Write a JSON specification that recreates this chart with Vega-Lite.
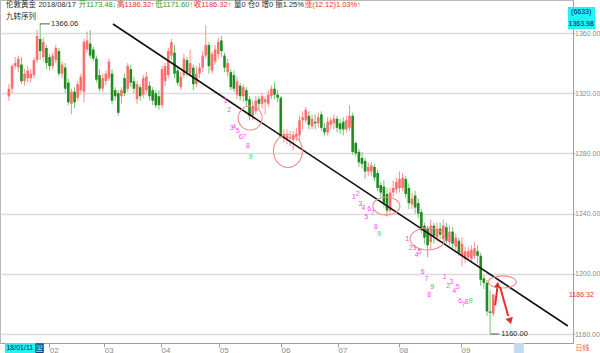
{
  "$schema": "https://vega.github.io/schema/vega-lite/v6.json",
  "width": 573,
  "height": 343,
  "autosize": {"type": "none"},
  "padding": {"left": 0, "top": 0, "right": 27, "bottom": 10},
  "background": "white",
  "config": {"view": {"stroke": "#b8b8b8", "strokeWidth": 1}, "font": "Liberation Sans, Noto Sans CJK SC"},
  "resolve": {"scale": {"color": "independent"}},
  "datasets": {
    "bars": [
      {"i":0,"o":1318,"h":1326,"l":1315,"c":1323},{"i":1,"o":1323,"h":1339,"l":1320,"c":1338},{"i":2,"o":1338,"h":1344,"l":1336,"c":1340},{"i":3,"o":1337,"h":1345,"l":1334,"c":1343},{"i":4,"o":1339,"h":1344,"l":1326,"c":1328},{"i":5,"o":1328,"h":1336,"l":1325,"c":1333},{"i":6,"o":1330,"h":1338,"l":1327,"c":1335},{"i":7,"o":1330,"h":1336,"l":1327,"c":1333},{"i":8,"o":1332,"h":1344,"l":1330,"c":1342},{"i":9,"o":1342,"h":1362,"l":1340,"c":1358},
      {"i":10,"o":1356,"h":1366.06,"l":1342,"c":1348},{"i":11,"o":1344,"h":1357,"l":1341,"c":1354},{"i":12,"o":1350,"h":1352,"l":1336,"c":1340},{"i":13,"o":1344,"h":1346,"l":1335,"c":1338},{"i":14,"o":1338,"h":1347,"l":1336,"c":1345},{"i":15,"o":1342,"h":1352,"l":1340,"c":1350},{"i":16,"o":1348,"h":1350,"l":1331,"c":1333},{"i":17,"o":1333,"h":1341,"l":1330,"c":1339},{"i":18,"o":1337,"h":1340,"l":1320,"c":1323},{"i":19,"o":1327,"h":1330,"l":1312,"c":1314},
      {"i":20,"o":1313,"h":1323,"l":1306,"c":1321},{"i":21,"o":1321,"h":1324,"l":1310,"c":1314},{"i":22,"o":1317,"h":1328,"l":1315,"c":1326},{"i":23,"o":1322,"h":1333,"l":1320,"c":1331},{"i":24,"o":1321,"h":1356,"l":1314,"c":1354},{"i":25,"o":1349,"h":1361,"l":1347,"c":1355},{"i":26,"o":1353,"h":1362,"l":1343,"c":1345},{"i":27,"o":1349,"h":1351,"l":1341,"c":1343},{"i":28,"o":1343,"h":1345,"l":1327,"c":1329},{"i":29,"o":1332,"h":1336,"l":1321,"c":1323},
      {"i":30,"o":1323,"h":1333,"l":1321,"c":1330},{"i":31,"o":1328,"h":1335,"l":1325,"c":1333},{"i":32,"o":1330,"h":1343,"l":1328,"c":1341},{"i":33,"o":1333,"h":1336,"l":1313,"c":1315},{"i":34,"o":1322,"h":1324,"l":1315,"c":1318},{"i":35,"o":1320,"h":1322,"l":1305,"c":1307},{"i":36,"o":1318,"h":1324,"l":1313,"c":1322},{"i":37,"o":1330,"h":1333,"l":1318,"c":1320},{"i":38,"o":1323,"h":1340,"l":1321,"c":1338},{"i":39,"o":1336,"h":1339,"l":1324,"c":1327},
      {"i":40,"o":1328,"h":1331,"l":1320,"c":1323},{"i":41,"o":1316,"h":1328,"l":1313,"c":1326},{"i":42,"o":1324,"h":1326,"l":1315,"c":1318},{"i":43,"o":1319,"h":1332,"l":1317,"c":1330},{"i":44,"o":1322,"h":1334,"l":1320,"c":1331},{"i":45,"o":1325,"h":1328,"l":1315,"c":1318},{"i":46,"o":1322,"h":1324,"l":1312,"c":1315},{"i":47,"o":1320,"h":1322,"l":1310,"c":1312},{"i":48,"o":1318,"h":1322,"l":1309,"c":1312},{"i":49,"o":1312,"h":1338,"l":1310,"c":1336},
      {"i":50,"o":1328,"h":1340,"l":1325,"c":1338},{"i":51,"o":1332,"h":1350,"l":1330,"c":1348},{"i":52,"o":1345,"h":1356,"l":1342,"c":1354},{"i":53,"o":1347,"h":1352,"l":1330,"c":1333},{"i":54,"o":1335,"h":1338,"l":1325,"c":1327},{"i":55,"o":1324,"h":1334,"l":1322,"c":1331},{"i":56,"o":1332,"h":1346,"l":1330,"c":1343},{"i":57,"o":1342,"h":1344,"l":1331,"c":1334},{"i":58,"o":1333,"h":1349,"l":1331,"c":1340},{"i":59,"o":1337,"h":1339,"l":1322,"c":1326},
      {"i":60,"o":1326,"h":1338,"l":1324,"c":1333},{"i":61,"o":1333,"h":1340,"l":1330,"c":1337},{"i":62,"o":1337,"h":1348,"l":1334,"c":1345},{"i":63,"o":1345,"h":1365,"l":1343,"c":1352},{"i":64,"o":1352,"h":1354,"l":1333,"c":1338},{"i":65,"o":1335,"h":1348,"l":1333,"c":1346},{"i":66,"o":1341,"h":1352,"l":1339,"c":1349},{"i":67,"o":1346,"h":1357,"l":1343,"c":1354},{"i":68,"o":1355,"h":1358,"l":1344,"c":1348},{"i":69,"o":1345,"h":1347,"l":1334,"c":1337},
      {"i":70,"o":1334,"h":1343,"l":1331,"c":1340},{"i":71,"o":1334,"h":1336,"l":1322,"c":1324},{"i":72,"o":1332,"h":1335,"l":1321,"c":1323},{"i":73,"o":1319,"h":1331,"l":1316,"c":1328},{"i":74,"o":1325,"h":1327,"l":1315,"c":1318},{"i":75,"o":1318,"h":1326,"l":1314,"c":1324},{"i":76,"o":1322,"h":1324,"l":1311,"c":1315},{"i":77,"o":1316,"h":1318,"l":1302,"c":1305},{"i":78,"o":1305,"h":1315,"l":1302,"c":1311},{"i":79,"o":1308,"h":1318,"l":1306,"c":1315},
      {"i":80,"o":1316,"h":1318,"l":1309,"c":1313},{"i":81,"o":1313,"h":1320,"l":1310,"c":1318},{"i":82,"o":1314,"h":1318,"l":1306,"c":1316},{"i":83,"o":1313,"h":1322,"l":1311,"c":1319},{"i":84,"o":1318,"h":1325,"l":1316,"c":1323},{"i":85,"o":1323,"h":1327,"l":1316,"c":1319},{"i":86,"o":1319,"h":1322,"l":1314,"c":1317},{"i":87,"o":1317,"h":1318,"l":1290,"c":1291},{"i":88,"o":1290,"h":1296,"l":1287,"c":1293},{"i":89,"o":1289,"h":1296,"l":1286,"c":1292},
      {"i":90,"o":1290,"h":1295,"l":1285,"c":1291},{"i":91,"o":1289,"h":1295,"l":1282,"c":1292},{"i":92,"o":1291,"h":1297,"l":1288,"c":1293},{"i":93,"o":1292,"h":1305,"l":1289,"c":1302},{"i":94,"o":1302,"h":1308,"l":1296,"c":1304},{"i":95,"o":1302,"h":1311,"l":1300,"c":1309},{"i":96,"o":1305,"h":1308,"l":1296,"c":1299},{"i":97,"o":1298,"h":1306,"l":1296,"c":1303},{"i":98,"o":1301,"h":1306,"l":1296,"c":1300},{"i":99,"o":1300,"h":1307,"l":1297,"c":1304},
      {"i":100,"o":1306,"h":1308,"l":1295,"c":1297},{"i":101,"o":1297,"h":1300,"l":1292,"c":1294},{"i":102,"o":1294,"h":1304,"l":1292,"c":1301},{"i":103,"o":1299,"h":1304,"l":1296,"c":1302},{"i":104,"o":1300,"h":1306,"l":1296,"c":1303},{"i":105,"o":1303,"h":1305,"l":1294,"c":1297},{"i":106,"o":1300,"h":1303,"l":1293,"c":1296},{"i":107,"o":1301,"h":1304,"l":1292,"c":1296},{"i":108,"o":1296,"h":1305,"l":1294,"c":1302},{"i":109,"o":1297,"h":1312,"l":1295,"c":1305},
      {"i":110,"o":1305,"h":1307,"l":1279,"c":1281},{"i":111,"o":1287,"h":1288,"l":1278,"c":1280},{"i":112,"o":1281,"h":1283,"l":1271,"c":1274},{"i":113,"o":1277,"h":1281,"l":1270,"c":1273},{"i":114,"o":1275,"h":1277,"l":1263,"c":1268},{"i":115,"o":1268,"h":1274,"l":1265,"c":1271},{"i":116,"o":1268,"h":1274,"l":1265,"c":1272},{"i":117,"o":1271,"h":1273,"l":1262,"c":1264},{"i":118,"o":1267,"h":1269,"l":1255,"c":1257},{"i":119,"o":1259,"h":1261,"l":1251,"c":1254},
      {"i":120,"o":1258,"h":1262,"l":1244,"c":1247},{"i":121,"o":1253,"h":1257,"l":1238,"c":1242},{"i":122,"o":1242,"h":1257,"l":1240,"c":1254},{"i":123,"o":1254,"h":1262,"l":1251,"c":1257},{"i":124,"o":1256,"h":1264,"l":1253,"c":1261},{"i":125,"o":1257,"h":1268,"l":1254,"c":1263},{"i":126,"o":1257,"h":1267,"l":1255,"c":1264},{"i":127,"o":1263,"h":1265,"l":1250,"c":1253},{"i":128,"o":1257,"h":1260,"l":1243,"c":1247},{"i":129,"o":1246,"h":1254,"l":1243,"c":1250},
      {"i":130,"o":1252,"h":1255,"l":1240,"c":1244},{"i":131,"o":1247,"h":1250,"l":1237,"c":1240},{"i":132,"o":1241,"h":1243,"l":1227,"c":1229},{"i":133,"o":1232,"h":1234,"l":1220,"c":1224},{"i":134,"o":1230,"h":1232,"l":1211,"c":1219},{"i":135,"o":1221,"h":1236,"l":1216,"c":1232},{"i":136,"o":1232,"h":1234,"l":1220,"c":1225},{"i":137,"o":1224,"h":1234,"l":1222,"c":1230},{"i":138,"o":1230,"h":1234,"l":1223,"c":1226},{"i":139,"o":1223,"h":1236,"l":1221,"c":1232},
      {"i":140,"o":1231,"h":1234,"l":1220,"c":1222},{"i":141,"o":1221,"h":1232,"l":1219,"c":1228},{"i":142,"o":1228,"h":1231,"l":1217,"c":1220},{"i":143,"o":1218,"h":1227,"l":1215,"c":1224},{"i":144,"o":1222,"h":1224,"l":1212,"c":1214},{"i":145,"o":1212,"h":1224,"l":1205,"c":1220},{"i":146,"o":1210,"h":1218,"l":1207,"c":1215},{"i":147,"o":1211,"h":1218,"l":1209,"c":1215},{"i":148,"o":1210,"h":1219,"l":1208,"c":1216},{"i":149,"o":1212,"h":1221,"l":1210,"c":1217},
      {"i":150,"o":1215,"h":1219,"l":1207,"c":1212},{"i":151,"o":1212,"h":1214,"l":1192,"c":1196},{"i":152,"o":1197,"h":1199,"l":1190,"c":1194},{"i":153,"o":1194,"h":1196,"l":1172,"c":1175},{"i":154,"o":1175,"h":1189,"l":1160,"c":1174},{"i":155,"o":1173.48,"h":1186.32,"l":1171.6,"c":1186.32}
    ],
    "trend": [{"i":33.3,"p":1366},{"i":178.9,"p":1165.3}],
    "ellipses": [
      {"e":"E1","i":77.2,"p":1303.5},{"e":"E2","i":89.3,"p":1281.6},{"e":"E3","i":120.8,"p":1245.0},{"e":"E4","i":134.0,"p":1223.1},{"e":"E5","i":157.9,"p":1194.6}
    ],
    "td": [
      {"i":69.3,"p":1314.8,"n":"1","kind":"setup"},{"i":70.5,"p":1308.8,"n":"2","kind":"setup"},{"i":71.3,"p":1296.7,"n":"3","kind":"setup"},{"i":72.1,"p":1297.5,"n":"4","kind":"setup"},{"i":73.2,"p":1294.9,"n":"5","kind":"setup"},{"i":74.2,"p":1290.7,"n":"6","kind":"setup"},{"i":75.3,"p":1290.7,"n":"7","kind":"setup"},{"i":76.5,"p":1285.1,"n":"8","kind":"setup"},{"i":77.4,"p":1277.4,"n":"9","kind":"nine"},
      {"i":110.4,"p":1250.8,"n":"1","kind":"setup"},{"i":111.6,"p":1253.0,"n":"2","kind":"setup"},{"i":112.5,"p":1246.4,"n":"3","kind":"setup"},{"i":113.5,"p":1243.5,"n":"4","kind":"setup"},{"i":114.4,"p":1237.5,"n":"5","kind":"setup"},{"i":115.3,"p":1243.1,"n":"6","kind":"setup"},{"i":116.4,"p":1240.2,"n":"7","kind":"setup"},{"i":117.5,"p":1230.8,"n":"8","kind":"setup"},{"i":118.5,"p":1226.2,"n":"9","kind":"nine"},
      {"i":127.5,"p":1222.9,"n":"1","kind":"setup"},{"i":128.6,"p":1217.1,"n":"2","kind":"setup"},{"i":129.7,"p":1217.1,"n":"3","kind":"setup"},{"i":130.5,"p":1212.2,"n":"4","kind":"setup"},{"i":131.5,"p":1214.3,"n":"5","kind":"setup"},{"i":132.4,"p":1201.4,"n":"6","kind":"setup"},{"i":133.6,"p":1196.7,"n":"7","kind":"setup"},{"i":134.5,"p":1186.1,"n":"8","kind":"setup"},{"i":135.5,"p":1190.9,"n":"9","kind":"nine"},
      {"i":139.5,"p":1197.7,"n":"1","kind":"setup"},{"i":140.6,"p":1192.1,"n":"2","kind":"setup"},{"i":141.6,"p":1194.3,"n":"3","kind":"setup"},{"i":142.5,"p":1188.8,"n":"4","kind":"setup"},{"i":143.6,"p":1191.0,"n":"5","kind":"setup"},{"i":144.4,"p":1182.0,"n":"6","kind":"setup"},{"i":145.5,"p":1179.3,"n":"7","kind":"setup"},{"i":146.5,"p":1181.5,"n":"8","kind":"setup"},{"i":147.8,"p":1182.1,"n":"9","kind":"nine"}
    ],
    "header": [
      {"label":"伦敦黄金","i":-0.94,"p":1378.3,"kind":"neutral"},
      {"label":"2018/08/17","i":9.43,"p":1378.3,"kind":"neutral"},
      {"label":"开1173.48↓","i":22.33,"p":1378.3,"kind":"down"},
      {"label":"高1186.32↑","i":34.6,"p":1378.3,"kind":"up"},
      {"label":"低1171.60↑","i":46.86,"p":1378.3,"kind":"down"},
      {"label":"收1186.32↑","i":59.12,"p":1378.3,"kind":"up"},
      {"label":"量0 仓0 增0 振1.25%","i":72.0,"p":1378.3,"kind":"neutral"},
      {"label":"涨(12.12)1.03%↑","i":94.65,"p":1378.3,"kind":"up"},
      {"label":"九转序列","i":-0.94,"p":1370.8,"kind":"neutral"},
      {"label":"1366.06","i":13.5,"p":1366.3,"kind":"neutral"},
      {"label":"1160.00","i":157.6,"p":1160.3,"kind":"neutral"}
    ],
    "side": [
      {"label":"1186.32","i":179.25,"p":1186.0,"kind":"up"},
      {"label":"日线","i":181.3,"p":1150.6,"kind":"orange"},
      {"label":"18/01/11","i":-0.8,"p":1150.6,"kind":"navy"},
      {"label":"四","i":8.75,"p":1150.6,"kind":"navy"}
    ],
    "boxtext": [
      {"label":"(6633)","i":183.15,"p":1373.8},
      {"label":"1363.98","i":183.15,"p":1366.1}
    ],
    "leaders": [
      {"i":9.9,"i2":13.1,"p":1366.06},
      {"i":154.1,"i2":156.9,"p":1160}
    ],
    "arrows": [
      {"a":"up","i":155.6,"p":1179,"i2":156.3,"p2":1190.5},
      {"a":"down","i":157.2,"p":1191.2,"i2":159.8,"p2":1172}
    ],
    "heads": [
      {"a":"up","i":156.4,"p":1192.8},
      {"a":"down","i":160.4,"p":1168.6}
    ],
    "boxes": [
      {"b":"cyan","i":178.9,"i2":187.6,"p":1377.3,"p2":1362.6},
      {"b":"cyan","i":-1.26,"i2":11.0,"p":1154.0,"p2":1147.2},
      {"b":"blue","i":161.6,"i2":164.8,"p":1154.0,"p2":1147.2},
      {"b":"frame","i":8.6,"i2":11.0,"p":1153.5,"p2":1147.7}
    ]
  },
  "layer": [
    {
      "data": {"name": "bars"},
      "mark": {"type": "rule", "strokeWidth": 1},
      "encoding": {
        "x": {"field": "i", "type": "quantitative", "title": null,
              "scale": {"domain": [-1.258, 178.93], "nice": false, "zero": false},
              "axis": {"orient": "bottom", "title": null, "values": [12.9, 30.5, 48.7, 67.3, 87.1, 105.3, 124.8, 144.7],
                       "labelExpr": "datum.value < 20 ? '02' : datum.value < 40 ? '03' : datum.value < 60 ? '04' : datum.value < 80 ? '05' : datum.value < 95 ? '06' : datum.value < 115 ? '07' : datum.value < 135 ? '08' : '09'",
                       "labelAlign": "left", "labelDx": 1, "labelBaseline": "top", "labelPadding": -1, "labelFontSize": 8, "labelColor": "#8a8a8a",
                       "tickSize": 4, "tickColor": "#a0a0a0", "domainColor": "#a0a0a0", "grid": false, "labelFlush": false, "labelOverlap": false}},
        "y": {"field": "l", "type": "quantitative", "title": null,
              "scale": {"domain": [1154.02, 1381.93], "nice": false, "zero": false},
              "axis": {"orient": "right", "title": null, "values": [1160, 1180, 1200, 1220, 1240, 1260, 1280, 1300, 1320, 1340, 1360],
                       "format": ".2f", "labelFontSize": 7, "labelColor": "#8a8a8a", "labelPadding": 0, "tickSize": 1.5, "tickColor": "#a0a0a0",
                       "domainColor": "#a0a0a0", "grid": true, "gridColor": "#dcdcdc", "gridWidth": 1.5, "labelFlush": false, "labelOverlap": false}},
        "y2": {"field": "h"},
        "color": {"condition": {"test": "datum.c >= datum.o", "value": "#ff8f8f"}, "value": "#72c472"}
      }
    },
    {
      "data": {"name": "bars"},
      "mark": {"type": "bar", "size": 2.6},
      "encoding": {
        "x": {"field": "i", "type": "quantitative", "title": null},
        "y": {"field": "o", "type": "quantitative", "title": null},
        "y2": {"field": "c"},
        "color": {"condition": {"test": "datum.c >= datum.o", "value": "#ff6f6f"}, "value": "#1f8c1f"}
      }
    },
    {
      "data": {"name": "trend"},
      "mark": {"type": "line", "color": "#111111", "strokeWidth": 1.6},
      "encoding": {
        "x": {"field": "i", "type": "quantitative", "title": null},
        "y": {"field": "p", "type": "quantitative", "title": null}
      }
    },
    {
      "data": {"name": "ellipses"},
      "transform": [{"filter": "datum.e == 'E1'"}],
      "mark": {"type": "point", "shape": "M-1,0A1,1,0,1,0,1,0A1,1,0,1,0,-1,0", "size": 576, "filled": false, "color": "#f28c8c", "strokeWidth": 1.1, "opacity": 1},
      "encoding": {"x": {"field": "i", "type": "quantitative", "title": null}, "y": {"field": "p", "type": "quantitative", "title": null}}
    },
    {
      "data": {"name": "ellipses"},
      "transform": [{"filter": "datum.e == 'E2'"}],
      "mark": {"type": "point", "shape": "M-0.879,0A0.879,1,0,1,0,0.879,0A0.879,1,0,1,0,-0.879,0", "size": 1089, "filled": false, "color": "#f28c8c", "strokeWidth": 1.1, "opacity": 1},
      "encoding": {"x": {"field": "i", "type": "quantitative", "title": null}, "y": {"field": "p", "type": "quantitative", "title": null}}
    },
    {
      "data": {"name": "ellipses"},
      "transform": [{"filter": "datum.e == 'E3'"}],
      "mark": {"type": "point", "shape": "M-1,0A1,0.667,0,1,0,1,0A1,0.667,0,1,0,-1,0", "size": 729, "filled": false, "color": "#f28c8c", "strokeWidth": 1.1, "opacity": 1},
      "encoding": {"x": {"field": "i", "type": "quantitative", "title": null}, "y": {"field": "p", "type": "quantitative", "title": null}}
    },
    {
      "data": {"name": "ellipses"},
      "transform": [{"filter": "datum.e == 'E4'"}],
      "mark": {"type": "point", "shape": "M-1,0A1,0.629,0,1,0,1,0A1,0.629,0,1,0,-1,0", "size": 1225, "filled": false, "color": "#f28c8c", "strokeWidth": 1.1, "opacity": 1},
      "encoding": {"x": {"field": "i", "type": "quantitative", "title": null}, "y": {"field": "p", "type": "quantitative", "title": null}}
    },
    {
      "data": {"name": "ellipses"},
      "transform": [{"filter": "datum.e == 'E5'"}],
      "mark": {"type": "point", "shape": "M-1,0A1,0.429,0,1,0,1,0A1,0.429,0,1,0,-1,0", "size": 784, "filled": false, "color": "#f28c8c", "strokeWidth": 1.1, "opacity": 1},
      "encoding": {"x": {"field": "i", "type": "quantitative", "title": null}, "y": {"field": "p", "type": "quantitative", "title": null}}
    },
    {
      "data": {"name": "td"},
      "mark": {"type": "text", "fontSize": 7, "align": "center", "baseline": "middle"},
      "encoding": {
        "x": {"field": "i", "type": "quantitative", "title": null},
        "y": {"field": "p", "type": "quantitative", "title": null},
        "text": {"field": "n"},
        "color": {"field": "kind", "type": "nominal", "legend": null, "scale": {"domain": ["setup", "nine"], "range": ["#ff4cff", "#44c944"]}}
      }
    },
    {
      "data": {"name": "leaders"},
      "mark": {"type": "rule", "color": "#555555", "strokeWidth": 1},
      "encoding": {
        "x": {"field": "i", "type": "quantitative", "title": null},
        "x2": {"field": "i2"},
        "y": {"field": "p", "type": "quantitative", "title": null}
      }
    },
    {
      "data": {"name": "arrows"},
      "mark": {"type": "rule", "color": "#e8302a", "strokeWidth": 2},
      "encoding": {
        "x": {"field": "i", "type": "quantitative", "title": null},
        "x2": {"field": "i2"},
        "y": {"field": "p", "type": "quantitative", "title": null},
        "y2": {"field": "p2"}
      }
    },
    {
      "data": {"name": "heads"},
      "transform": [{"filter": "datum.a == 'up'"}],
      "mark": {"type": "point", "shape": "triangle-up", "size": 45, "filled": true, "color": "#e8302a", "opacity": 1, "angle": 6},
      "encoding": {"x": {"field": "i", "type": "quantitative", "title": null}, "y": {"field": "p", "type": "quantitative", "title": null}}
    },
    {
      "data": {"name": "heads"},
      "transform": [{"filter": "datum.a == 'down'"}],
      "mark": {"type": "point", "shape": "triangle-down", "size": 60, "filled": true, "color": "#e8302a", "opacity": 1, "angle": 344},
      "encoding": {"x": {"field": "i", "type": "quantitative", "title": null}, "y": {"field": "p", "type": "quantitative", "title": null}}
    },
    {
      "data": {"name": "boxes"},
      "transform": [{"filter": "datum.b == 'cyan'"}],
      "mark": {"type": "rect", "fill": "#22f2f2", "opacity": 1},
      "encoding": {
        "x": {"field": "i", "type": "quantitative", "title": null},
        "x2": {"field": "i2"},
        "y": {"field": "p", "type": "quantitative", "title": null},
        "y2": {"field": "p2"}
      }
    },
    {
      "data": {"name": "boxes"},
      "transform": [{"filter": "datum.b == 'blue'"}],
      "mark": {"type": "rect", "fill": "#c3daf4", "opacity": 1},
      "encoding": {
        "x": {"field": "i", "type": "quantitative", "title": null},
        "x2": {"field": "i2"},
        "y": {"field": "p", "type": "quantitative", "title": null},
        "y2": {"field": "p2"}
      }
    },
    {
      "data": {"name": "boxes"},
      "transform": [{"filter": "datum.b == 'frame'"}],
      "mark": {"type": "rect", "fill": null, "stroke": "#10106a", "strokeWidth": 0.8, "filled": false},
      "encoding": {
        "x": {"field": "i", "type": "quantitative", "title": null},
        "x2": {"field": "i2"},
        "y": {"field": "p", "type": "quantitative", "title": null},
        "y2": {"field": "p2"}
      }
    },
    {
      "data": {"name": "header"},
      "mark": {"type": "text", "fontSize": 7.5, "align": "left", "baseline": "middle"},
      "encoding": {
        "x": {"field": "i", "type": "quantitative", "title": null},
        "y": {"field": "p", "type": "quantitative", "title": null},
        "text": {"field": "label"},
        "color": {"field": "kind", "type": "nominal", "legend": null, "scale": {"domain": ["neutral", "up", "down"], "range": ["#2a2a2a", "#e8302a", "#1e9a1e"]}}
      }
    },
    {
      "data": {"name": "side"},
      "mark": {"type": "text", "fontSize": 7, "align": "left", "baseline": "middle"},
      "encoding": {
        "x": {"field": "i", "type": "quantitative", "title": null},
        "y": {"field": "p", "type": "quantitative", "title": null},
        "text": {"field": "label"},
        "color": {"field": "kind", "type": "nominal", "legend": null, "scale": {"domain": ["up", "navy", "orange"], "range": ["#e8302a", "#10106a", "#f0603c"]}}
      }
    },
    {
      "data": {"name": "boxtext"},
      "mark": {"type": "text", "fontSize": 7, "align": "center", "baseline": "middle", "color": "#10106a"},
      "encoding": {
        "x": {"field": "i", "type": "quantitative", "title": null},
        "y": {"field": "p", "type": "quantitative", "title": null},
        "text": {"field": "label"}
      }
    }
  ]
}
